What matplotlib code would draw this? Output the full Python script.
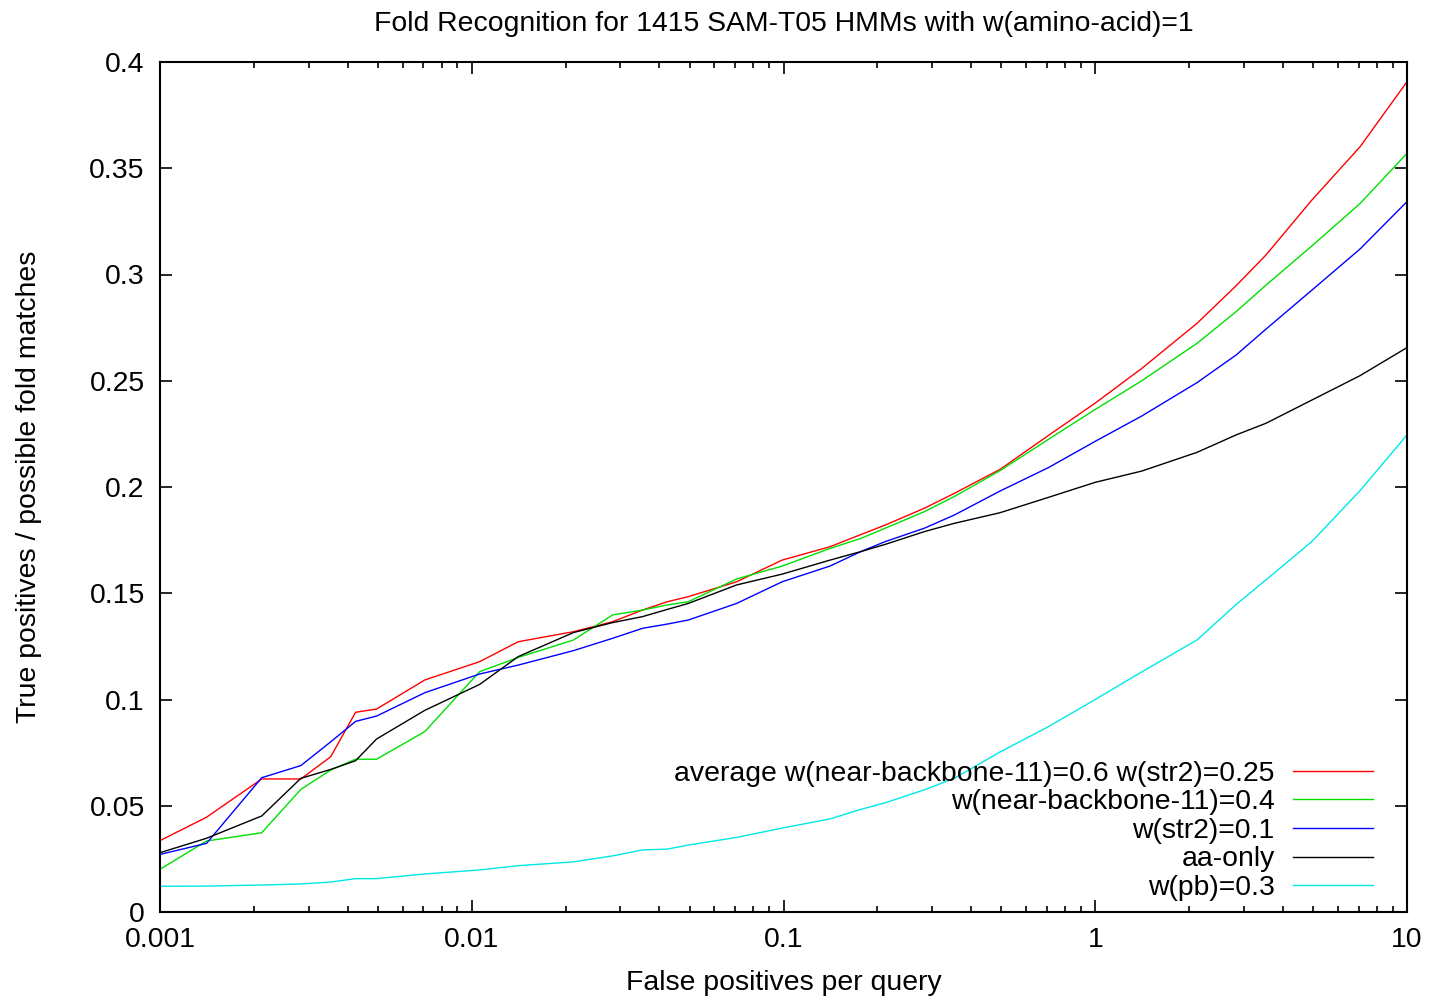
import matplotlib
matplotlib.use("Agg")
import matplotlib.pyplot as plt
from matplotlib.ticker import FixedLocator, LogLocator, NullFormatter

plt.rcParams['font.family'] = ['Liberation Sans', 'DejaVu Sans']

# False positives per query (x)
fp_per_query = [0.001, 0.00141, 0.00212, 0.00283, 0.00353, 0.00424, 0.00495, 0.00707,
                0.0106, 0.0141, 0.0212, 0.0283, 0.0353, 0.0424, 0.0495, 0.0707,
                0.099, 0.141, 0.177, 0.212, 0.283, 0.353, 0.495, 0.707,
                1.0, 1.41, 2.12, 2.83, 3.53, 4.95, 7.07, 10.0]

avg_nb11_str2 = [0.0336, 0.0446, 0.0626, 0.0626, 0.0731, 0.0940, 0.0955, 0.1092,
                 0.1178, 0.1272, 0.1319, 0.1366, 0.1421, 0.1460, 0.1484, 0.1554,
                 0.1656, 0.1719, 0.1776, 0.1821, 0.1900, 0.1970, 0.2083, 0.2242,
                 0.2395, 0.2558, 0.2770, 0.2947, 0.3092, 0.3350, 0.3601, 0.3907]

nb11_04 = [0.0201, 0.0334, 0.0373, 0.0577, 0.0668, 0.0719, 0.0719, 0.0849,
           0.1131, 0.1198, 0.1280, 0.1398, 0.1421, 0.1445, 0.1460, 0.1567,
           0.1628, 0.1711, 0.1758, 0.1806, 0.1884, 0.1955, 0.2077, 0.2224,
           0.2365, 0.2500, 0.2676, 0.2825, 0.2950, 0.3134, 0.3334, 0.3570]

str2_01 = [0.0271, 0.0323, 0.0632, 0.0689, 0.0801, 0.0897, 0.0922, 0.1032,
           0.1120, 0.1162, 0.1230, 0.1288, 0.1335, 0.1355, 0.1374, 0.1452,
           0.1554, 0.1628, 0.1696, 0.1743, 0.1806, 0.1868, 0.1981, 0.2091,
           0.2215, 0.2334, 0.2491, 0.2621, 0.2743, 0.2926, 0.3120, 0.3343]

aa_only = [0.0279, 0.0347, 0.0452, 0.0629, 0.0671, 0.0712, 0.0814, 0.0949,
           0.1071, 0.1202, 0.1315, 0.1362, 0.1390, 0.1424, 0.1452, 0.1539,
           0.1590, 0.1656, 0.1696, 0.1730, 0.1790, 0.1829, 0.1879, 0.1951,
           0.2022, 0.2075, 0.2163, 0.2245, 0.2300, 0.2409, 0.2524, 0.2656]

pb_03 = [0.0121, 0.0122, 0.0127, 0.0132, 0.0141, 0.0157, 0.0157, 0.0179,
         0.0198, 0.0218, 0.0236, 0.0264, 0.0292, 0.0296, 0.0315, 0.0351,
         0.0395, 0.0438, 0.0483, 0.0514, 0.0575, 0.0629, 0.0753, 0.0872,
         0.1000, 0.1130, 0.1280, 0.1447, 0.1563, 0.1743, 0.1983, 0.2245]

series = [
    ("average w(near-backbone-11)=0.6 w(str2)=0.25", avg_nb11_str2, "#ff0000"),
    ("w(near-backbone-11)=0.4", nb11_04, "#00e000"),
    ("w(str2)=0.1", str2_01, "#0000ff"),
    ("aa-only", aa_only, "#000000"),
    ("w(pb)=0.3", pb_03, "#00e8e8"),
]

x_ticks = [0.001, 0.01, 0.1, 1, 10]
x_tick_labels = ["0.001", "0.01", "0.1", "1", "10"]
y_ticks = [0, 0.05, 0.1, 0.15, 0.2, 0.25, 0.3, 0.35, 0.4]
y_tick_labels = ["0", "0.05", "0.1", "0.15", "0.2", "0.25", "0.3", "0.35", "0.4"]

W, H = 1434, 1002
fig = plt.figure(figsize=(W / 100, H / 100), dpi=100)
ax = fig.add_axes([160 / W, (H - 912) / H, (1407 - 160) / W, (912 - 62) / H])

for label, ys, color in series:
    ax.plot(fp_per_query, ys, color=color, lw=1.0, label=label)

ax.set_xscale('log')
ax.set_xlim(0.001, 10)
ax.set_ylim(0, 0.4)
ax.xaxis.set_major_locator(FixedLocator(x_ticks))
ax.set_xticklabels(x_tick_labels)
ax.xaxis.set_minor_locator(LogLocator(base=10, subs=range(2, 10), numticks=20))
ax.xaxis.set_minor_formatter(NullFormatter())
ax.set_yticks(y_ticks)
ax.set_yticklabels(y_tick_labels)

fs = 20.4
ax.tick_params(axis='both', which='both', direction='in', top=True, right=True,
               labelsize=fs, width=1.2, colors='black')
ax.tick_params(axis='both', which='major', length=8.6)
ax.tick_params(axis='both', which='minor', length=4.3)
ax.tick_params(axis='y', pad=11)
ax.tick_params(axis='x', pad=11)
for sp in ax.spines.values():
    sp.set_linewidth(1.5)

ax.set_title("Fold Recognition for 1415 SAM-T05 HMMs with w(amino-acid)=1",
             fontsize=fs, pad=22)
ax.set_xlabel("False positives per query", fontsize=fs, labelpad=12)
ax.set_ylabel("True positives / possible fold matches", fontsize=fs, labelpad=34)

leg = ax.legend(loc='lower right', bbox_to_anchor=((1373 - 160) / 1247, (912 - 901) / 850),
                frameon=False, markerfirst=False, fontsize=fs, borderpad=0,
                borderaxespad=0, handlelength=2.83, handletextpad=0.64,
                labelspacing=0.09)

fig.savefig("out.png", dpi=100)
